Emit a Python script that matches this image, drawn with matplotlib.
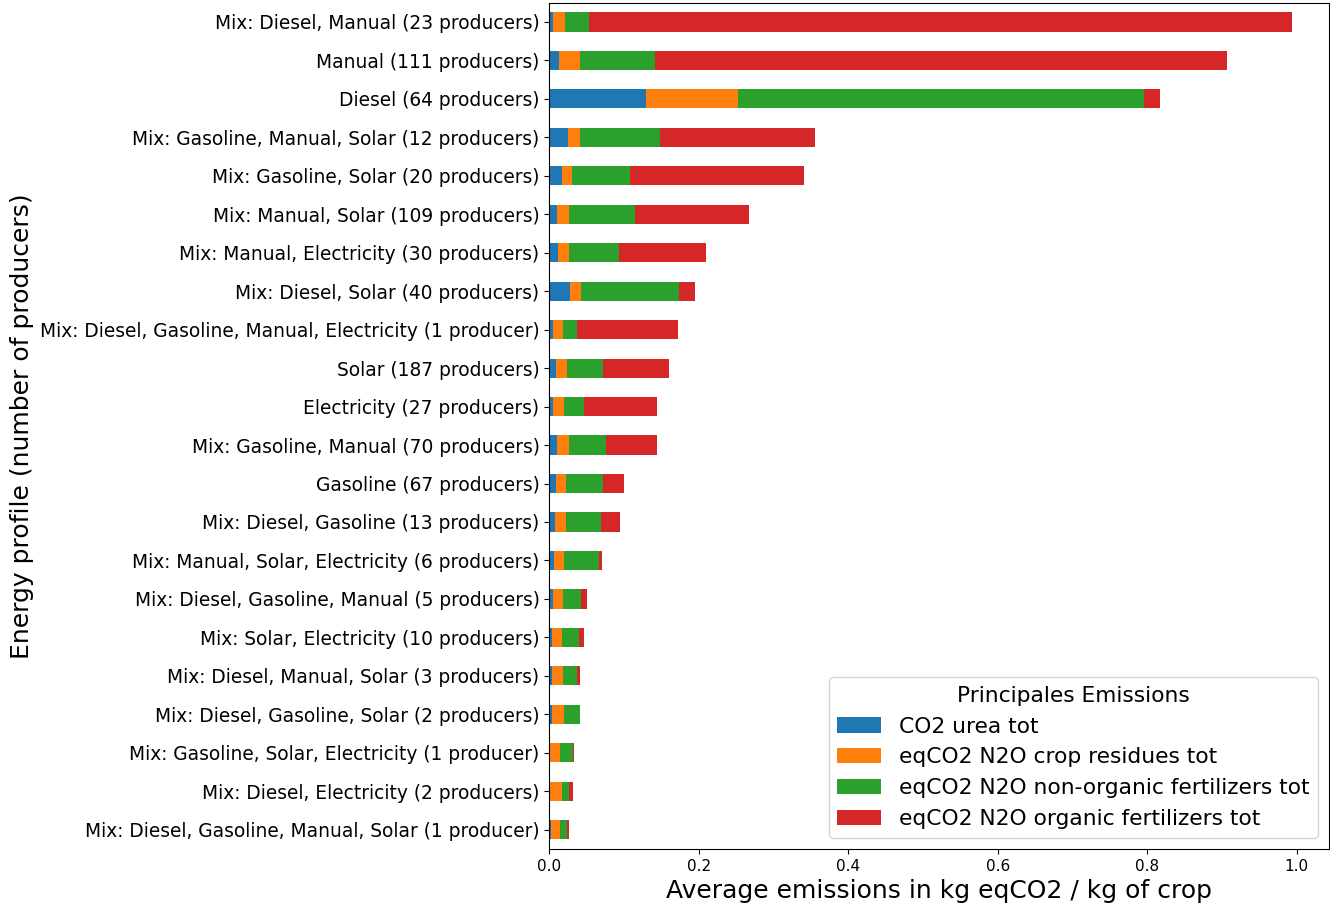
import numpy as np
import matplotlib
matplotlib.use('Agg')
import matplotlib.pyplot as plt

profiles = [
    'Mix: Diesel, Manual (23 producers)',
    'Manual (111 producers)',
    'Diesel (64 producers)',
    'Mix: Gasoline, Manual, Solar (12 producers)',
    'Mix: Gasoline, Solar (20 producers)',
    'Mix: Manual, Solar (109 producers)',
    'Mix: Manual, Electricity (30 producers)',
    'Mix: Diesel, Solar (40 producers)',
    'Mix: Diesel, Gasoline, Manual, Electricity (1 producer)',
    'Solar (187 producers)',
    'Electricity (27 producers)',
    'Mix: Gasoline, Manual (70 producers)',
    'Gasoline (67 producers)',
    'Mix: Diesel, Gasoline (13 producers)',
    'Mix: Manual, Solar, Electricity (6 producers)',
    'Mix: Diesel, Gasoline, Manual (5 producers)',
    'Mix: Solar, Electricity (10 producers)',
    'Mix: Diesel, Manual, Solar (3 producers)',
    'Mix: Diesel, Gasoline, Solar (2 producers)',
    'Mix: Gasoline, Solar, Electricity (1 producer)',
    'Mix: Diesel, Electricity (2 producers)',
    'Mix: Diesel, Gasoline, Manual, Solar (1 producer)',
]

co2_urea = [0.005, 0.013, 0.130, 0.025, 0.0165, 0.0107, 0.012, 0.028, 0.0044, 0.0089, 0.0053,
            0.0107, 0.0085, 0.008, 0.006, 0.0049, 0.0036, 0.004, 0.0036, 0.0005, 0.0, 0.0018]
n2o_residues = [0.016, 0.028, 0.123, 0.0155, 0.0145, 0.016, 0.0143, 0.0147, 0.0134, 0.015, 0.0147,
                0.0156, 0.0142, 0.0147, 0.014, 0.0134, 0.0133, 0.0143, 0.016, 0.0142, 0.0169, 0.0129]
n2o_nonorganic = [0.032, 0.100, 0.543, 0.108, 0.077, 0.088, 0.067, 0.131, 0.0196, 0.0485, 0.0263,
                  0.0502, 0.0485, 0.0463, 0.047, 0.0235, 0.0227, 0.0194, 0.0213, 0.0173, 0.0098, 0.0089]
n2o_organic = [0.940, 0.765, 0.021, 0.207, 0.233, 0.1526, 0.117, 0.0215, 0.135, 0.088, 0.0983,
               0.068, 0.0293, 0.0262, 0.003, 0.0093, 0.0067, 0.004, 0.0, 0.001, 0.0049, 0.0022]

series = [
    ('CO2 urea tot', co2_urea, '#1f77b4'),
    ('eqCO2 N2O crop residues tot', n2o_residues, '#ff7f0e'),
    ('eqCO2 N2O non-organic fertilizers tot', n2o_nonorganic, '#2ca02c'),
    ('eqCO2 N2O organic fertilizers tot', n2o_organic, '#d62728'),
]

fig, ax = plt.subplots(figsize=(13.3, 9.06), dpi=100)
fig.subplots_adjust(left=0.413, right=0.999, top=0.997, bottom=0.063)

y = np.arange(len(profiles))
left = np.zeros(len(profiles))
for name, vals, color in series:
    vals = np.array(vals)
    ax.barh(y, vals, height=0.5, left=left, color=color, label=name)
    left += vals

ax.set_ylim(len(profiles) - 0.5, -0.5)
ax.set_yticks(y)
ax.set_yticklabels(profiles, fontsize=13.4)
ax.tick_params(axis='x', labelsize=11)
ax.set_xlabel('Average emissions in kg eqCO2 / kg of crop', fontsize=18)
ax.set_ylabel('Energy profile (number of producers)', fontsize=18)
ax.legend(title='Principales Emissions', loc='lower right', fontsize=15.7, title_fontsize=15.7)

plt.savefig('out.png')
